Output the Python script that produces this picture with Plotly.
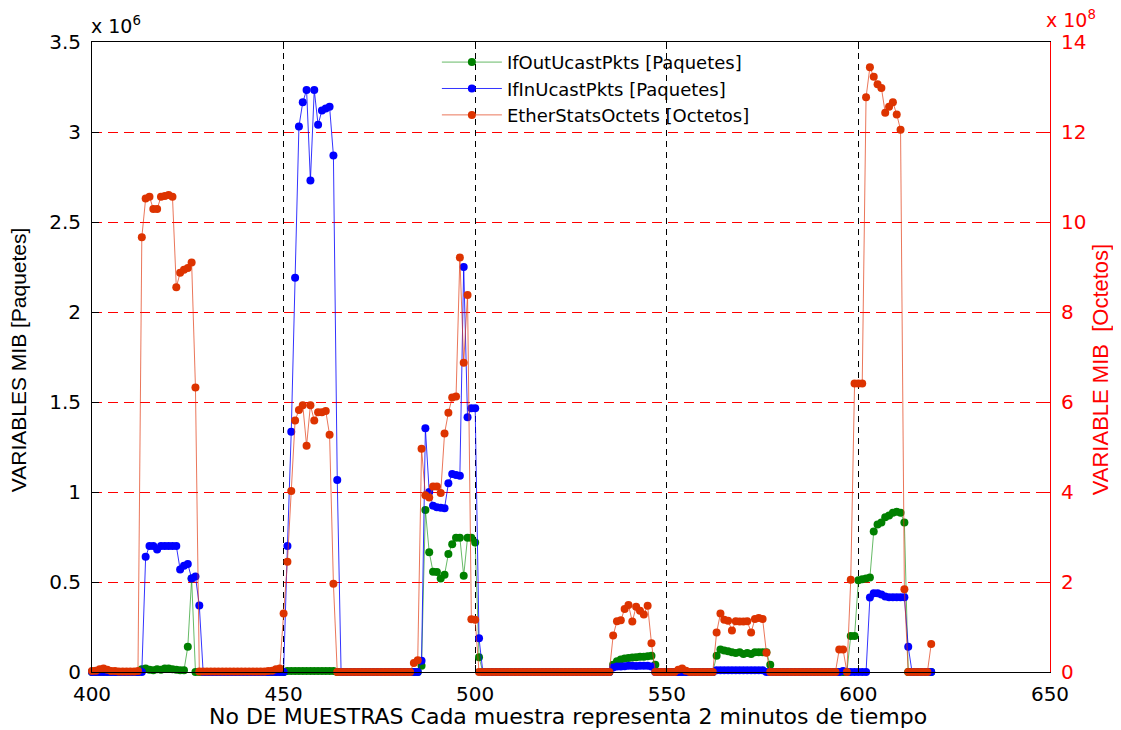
import plotly.graph_objects as go

# sample number (x axis)
muestras = list(range(400, 620))

# IfOutUcastPkts [Paquetes]  (x 1e6), samples 400..619, ten per row
if_out_ucast = [
    0, 0, 0, 0, 0, 0, 0, 0, 0, 0,                                   # 400
    0, 0, 0, 0.015, 0.02, 0.012, 0.01, 0.015, 0.012, 0.02,          # 410
    0.02, 0.015, 0.012, 0.01, 0.01, 0.14, 0.52, 0, 0, 0,            # 420
    0, 0, 0, 0, 0, 0, 0, 0, 0, 0,                                   # 430
    0, 0, 0, 0, 0, 0, 0, 0, 0, 0,                                   # 440
    0, 0.005, 0.005, 0.005, 0.005, 0.005, 0.005, 0.005, 0.005, 0.005,  # 450
    0.005, 0.005, 0.005, 0.005, 0, 0, 0, 0, 0, 0,                   # 460
    0, 0, 0, 0, 0, 0, 0, 0, 0, 0,                                   # 470
    0, 0, 0, 0, 0, 0, 0.035, 0.90, 0.665, 0.557,                    # 480
    0.555, 0.52, 0.54, 0.656, 0.71, 0.746, 0.746, 0.535, 0.746, 0.746,  # 490
    0.72, 0.082, 0, 0, 0, 0, 0, 0, 0, 0,                            # 500
    0, 0, 0, 0, 0, 0, 0, 0, 0, 0,                                   # 510
    0, 0, 0, 0, 0, 0, 0, 0, 0, 0,                                   # 520
    0, 0, 0, 0, 0, 0, 0.04, 0.06, 0.07, 0.075,                      # 530
    0.078, 0.08, 0.082, 0.085, 0.085, 0.088, 0.09, 0.04, 0, 0,      # 540
    0, 0, 0, 0, 0, 0, 0, 0, 0, 0,                                   # 550
    0, 0, 0, 0.09, 0.125, 0.12, 0.115, 0.11, 0.105, 0.11,           # 560
    0.10, 0.105, 0.10, 0.11, 0.11, 0.11, 0.11, 0.04, 0, 0,          # 570
    0, 0, 0, 0, 0, 0, 0, 0, 0, 0,                                   # 580
    0, 0, 0, 0, 0, 0, 0, 0, 0.2, 0.2,                               # 590
    0.51, 0.515, 0.52, 0.525, 0.78, 0.82, 0.83, 0.86, 0.87, 0.885,  # 600
    0.89, 0.885, 0.83, 0, 0, 0, 0, 0, 0, 0,                         # 610
]

# IfInUcastPkts [Paquetes]  (x 1e6)
if_in_ucast = [
    0, 0, 0, 0, 0, 0, 0, 0, 0, 0,                                   # 400
    0, 0, 0, 0, 0.64, 0.70, 0.70, 0.68, 0.70, 0.70,                 # 410
    0.70, 0.70, 0.70, 0.57, 0.59, 0.60, 0.52, 0.53, 0.37, 0,        # 420
    0, 0, 0, 0, 0, 0, 0, 0, 0, 0,                                   # 430
    0, 0, 0, 0, 0, 0, 0, 0, 0, 0,                                   # 440
    0, 0.70, 1.335, 2.19, 3.03, 3.165, 3.233, 2.73, 3.233, 3.04,    # 450
    3.12, 3.13, 3.14, 2.87, 1.067, 0, 0, 0, 0, 0,                   # 460
    0, 0, 0, 0, 0, 0, 0, 0, 0, 0,                                   # 470
    0, 0, 0, 0, 0, 0, 0.063, 1.354, 1.0, 0.924,                     # 480
    0.915, 0.913, 0.91, 1.048, 1.10, 1.095, 1.09, 2.25, 1.415, 1.465,  # 490
    1.465, 0.187, 0, 0, 0, 0, 0, 0, 0, 0,                           # 500
    0, 0, 0, 0, 0, 0, 0, 0, 0, 0,                                   # 510
    0, 0, 0, 0, 0, 0, 0, 0, 0, 0,                                   # 520
    0, 0, 0, 0, 0, 0, 0.025, 0.03, 0.03, 0.032,                     # 530
    0.035, 0.035, 0.033, 0.035, 0.035, 0.035, 0.03, 0, 0, 0,        # 540
    0, 0, 0, 0, 0, 0, 0, 0, 0, 0,                                   # 550
    0, 0, 0, 0.01, 0.01, 0.01, 0.01, 0.01, 0.01, 0.01,              # 560
    0.01, 0.01, 0.01, 0.01, 0.01, 0.01, 0, 0, 0, 0,                 # 570
    0, 0, 0, 0, 0, 0, 0, 0, 0, 0,                                   # 580
    0, 0, 0, 0, 0, 0, 0.005, 0, 0, 0,                               # 590
    0, 0, 0, 0.414, 0.437, 0.437, 0.43, 0.42, 0.415, 0.415,         # 600
    0.415, 0.415, 0.415, 0.14, 0, 0, 0, 0, 0, 0,                    # 610
]

# EtherStatsOctets [Octetos]  (x 1e8)
ether_octets = [
    0.02, 0.03, 0.06, 0.08, 0.05, 0.02, 0.02, 0.01, 0.01, 0.01,     # 400
    0.01, 0.01, 0.02, 9.66, 10.52, 10.56, 10.29, 10.29, 10.56, 10.58,  # 410
    10.60, 10.56, 8.55, 8.87, 8.94, 8.98, 9.10, 6.32, 0.01, 0.01,   # 420
    0.01, 0.01, 0.01, 0.01, 0.01, 0.01, 0.01, 0.01, 0.01, 0.01,     # 430
    0.01, 0.01, 0.01, 0.01, 0.01, 0.01, 0.02, 0.03, 0.06, 0.08,     # 440
    1.30, 2.45, 4.02, 5.59, 5.82, 5.93, 5.03, 5.93, 5.59, 5.77,     # 450
    5.77, 5.80, 5.27, 1.96, 0, 0, 0, 0, 0, 0,                       # 460
    0, 0, 0, 0, 0, 0, 0, 0, 0, 0,                                   # 470
    0, 0, 0, 0, 0.2, 0.26, 4.96, 3.93, 3.88, 4.12,                  # 480
    4.12, 3.98, 5.30, 5.76, 6.10, 6.12, 9.21, 6.87, 8.38, 1.17,     # 490
    1.16, 0, 0, 0, 0, 0, 0, 0, 0, 0,                                # 500
    0, 0, 0, 0, 0, 0, 0, 0, 0, 0,                                   # 510
    0, 0, 0, 0, 0, 0, 0, 0, 0, 0,                                   # 520
    0, 0, 0, 0, 0, 0, 0.81, 1.13, 1.15, 1.40,                       # 530
    1.49, 1.12, 1.45, 1.36, 1.28, 1.47, 0.64, 0, 0, 0,              # 540
    0, 0, 0, 0.05, 0.08, 0.03, 0, 0, 0, 0,                          # 550
    0, 0, 0, 0.88, 1.30, 1.16, 1.14, 0.92, 1.13, 1.12,              # 560
    1.12, 1.13, 0.88, 1.18, 1.20, 1.18, 0.43, 0, 0, 0,              # 570
    0, 0, 0, 0, 0, 0, 0, 0, 0, 0,                                   # 580
    0, 0, 0, 0, 0, 0.5, 0.5, 0, 2.05, 6.41,                         # 590
    6.41, 6.41, 12.77, 13.44, 13.23, 13.06, 12.98, 12.43, 12.56, 12.66,  # 600
    12.39, 12.05, 1.84, 0, 0, 0, 0, 0, 0, 0.62,                     # 610
]

x_ticks = [400, 450, 500, 550, 600, 650]
left_ticks = [0, 0.5, 1, 1.5, 2, 2.5, 3, 3.5]
left_labels = ["0", "0.5", "1", "1.5", "2", "2.5", "3", "3.5"]
right_ticks = [0, 2, 4, 6, 8, 10, 12, 14]
right_labels = ["0", "2", "4", "6", "8", "10", "12", "14"]

FONT = "DejaVu Sans"
ARIAL = "Liberation Sans, Arial"

fig = go.Figure()
fig.add_trace(go.Scatter(
    x=muestras, y=[v * 1e6 for v in if_out_ucast], mode="lines+markers",
    name="IfOutUcastPkts [Paquetes]", legendgroup="g1",
    line=dict(color="rgba(0,140,0,0.6)", width=1),
    marker=dict(color="#008000", size=8), cliponaxis=False))
fig.add_trace(go.Scatter(
    x=muestras, y=[v * 1e6 for v in if_in_ucast], mode="lines+markers",
    name="IfInUcastPkts [Paquetes]", legendgroup="g2",
    line=dict(color="rgba(0,0,255,0.8)", width=1),
    marker=dict(color="#0000ff", size=8), cliponaxis=False))
fig.add_trace(go.Scatter(
    x=muestras, y=[v * 1e8 for v in ether_octets], mode="lines+markers",
    name="EtherStatsOctets [Octetos]", legendgroup="g3", yaxis="y2",
    line=dict(color="rgba(225,60,20,0.7)", width=1),
    marker=dict(color="#dd3300", size=8), cliponaxis=False))

# page body has an 8px margin: figure is shrunk and shifted to keep the
# plot area at x 92..1050, y 42..672 of the window
fig.update_layout(
    width=1113, height=722,
    margin=dict(l=84, r=71, t=34, b=58),
    plot_bgcolor="white", paper_bgcolor="white",
    font=dict(family=FONT, size=20, color="black"),
    showlegend=True,
    legend=dict(x=0.36, y=0.997, xanchor="left", yanchor="top",
                bgcolor="rgba(0,0,0,0)", borderwidth=0, tracegroupgap=0,
                font=dict(family=FONT, size=18, color="black"),
                itemwidth=60),
    xaxis=dict(range=[400, 650], tickvals=x_ticks, ticks="inside", ticklen=7,
               tickcolor="black", showline=True, linecolor="black", linewidth=1,
               mirror="ticks", showgrid=True, gridcolor="black", gridwidth=1,
               griddash="6px,5px", zeroline=False, ticklabelstandoff=4,
               tickfont=dict(family=FONT, size=20, color="black")),
    yaxis=dict(range=[0, 3.5e6], tickvals=[v * 1e6 for v in left_ticks],
               ticktext=left_labels, ticks="inside", ticklen=7, tickcolor="black",
               showline=True, linecolor="black", linewidth=1, showgrid=False,
               zeroline=False, ticklabelstandoff=6,
               tickfont=dict(family=FONT, size=20, color="black")),
    yaxis2=dict(range=[0, 14e8], tickvals=[v * 1e8 for v in right_ticks],
                ticktext=right_labels, overlaying="y", side="right",
                ticks="inside", ticklen=7, tickcolor="red", showline=True,
                linecolor="red", linewidth=1, showgrid=True, gridcolor="red",
                gridwidth=1, griddash="10px,6px", zeroline=False,
                ticklabelstandoff=6,
                tickfont=dict(family=FONT, size=20, color="red")),
)

# white legend background that hides the grid only above the 3.0 grid line
fig.add_shape(type="rect", xref="paper", yref="paper",
              x0=0.355, x1=0.687, y0=0.866, y1=1.0,
              fillcolor="white", line=dict(width=0), layer="between")

fig.add_annotation(text="VARIABLES MIB [Paquetes]", xref="paper", yref="paper",
                   x=-0.0772, y=0.495, textangle=-90, showarrow=False,
                   xanchor="center", yanchor="middle",
                   font=dict(family=ARIAL, size=21, color="black"))
fig.add_annotation(text="VARIABLE MIB\u00a0 [Octetos]", xref="paper", yref="paper",
                   x=1.0522, y=0.479, textangle=-90, showarrow=False,
                   xanchor="center", yanchor="middle",
                   font=dict(family=ARIAL, size=22, color="red"))
fig.add_annotation(text="No DE MUESTRAS Cada muestra representa 2 minutos de tiempo",
                   xref="paper", yref="paper", x=0.497, y=-0.0714, showarrow=False,
                   xanchor="center", yanchor="middle",
                   font=dict(family=FONT, size=22, color="black"))
fig.add_annotation(text="x 10<sup>6</sup>", xref="paper", yref="paper",
                   x=0.0, y=1.005, xanchor="left", yanchor="bottom", showarrow=False,
                   xshift=-3, font=dict(family=FONT, size=19, color="black"))
fig.add_annotation(text="x 10<sup>8</sup>", xref="paper", yref="paper",
                   x=1.0, y=1.014, xanchor="left", yanchor="bottom", showarrow=False,
                   xshift=-6, font=dict(family=FONT, size=19, color="red"))

fig.write_html("out.html")
